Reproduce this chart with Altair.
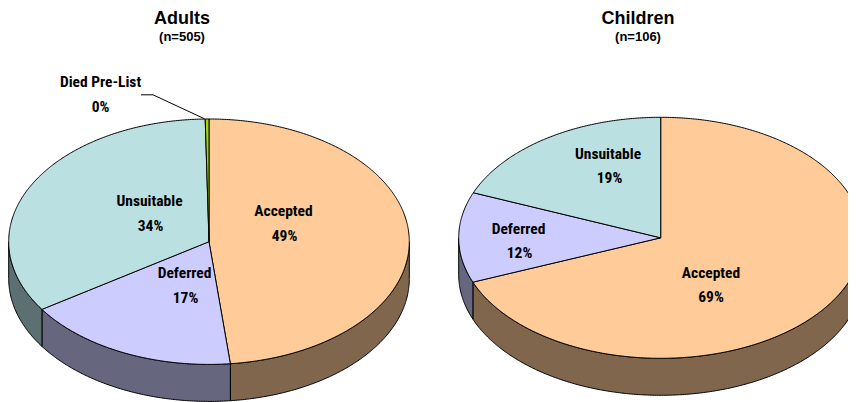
import math
import altair as alt
import pandas as pd

# ---- values ----
pies = ["Adults", "Children"]
categories = ["Accepted", "Deferred", "Unsuitable", "Died Pre-List"]
adult_shares = [48.3, 17.4, 34.0, 0.3]
child_shares = [69.0, 12.1, 18.9, 0.0]
adult_labels = ["49%", "17%", "34%", "0%"]
child_labels = ["69%", "12%", "19%", ""]
top_colors = ["#FFCC99", "#CCCCFF", "#BAE0E2", "#A6D600"]
wall_colors = ["#80664D", "#66667F", "#5D7071", "#4D6600"]
titles = ["Adults", "Children"]
subtitles = ["(n=505)", "(n=106)"]

# ---- layout (pixels of the 856x402 window) ----
L, T, R, B = 8, 8, 848, 402
geom = {"Adults": (209.0, 241.7, 200.3, 122.7), "Children": (660.7, 237.8, 202.0, 120.5)}
DEPTH = 37.0


def pt(pie, t, drop=0.0):
    cx, cy, rx, ry = geom[pie]
    a = math.radians(t)
    return cx + rx * math.sin(a), cy - ry * math.cos(a) + drop


rows = []


def add_poly(pid, fill, pts):
    for i, (x, y) in enumerate(pts):
        rows.append({"pid": pid, "fill": fill, "i": i, "x": x, "y": y})


def arc(t0, t1):
    n = max(2, int(abs(t1 - t0)) * 2)
    return [t0 + (t1 - t0) * k / n for k in range(n + 1)]


pid = 0
for pie, shares in zip(pies, [adult_shares, child_shares]):
    # side walls first, then the top face
    start = 0.0
    for share, wall in zip(shares, wall_colors):
        end = start + share * 3.6
        a, b = max(start, 90.0), min(end, 270.0)
        if b > a:
            ts = arc(a, b)
            add_poly(pid, wall, [pt(pie, t) for t in ts] + [pt(pie, t, DEPTH) for t in reversed(ts)])
            pid += 1
        start = end
    start = 0.0
    cx, cy, _, _ = geom[pie]
    for share, top in zip(shares, top_colors):
        end = start + share * 3.6
        if share > 0:
            add_poly(pid, top, [(cx, cy)] + [pt(pie, t) for t in arc(start, end)])
            pid += 1
        start = end

polys = pd.DataFrame(rows)

x_scale = alt.Scale(domain=[L, R], range=[0, R - L], nice=False, zero=False)
y_scale = alt.Scale(domain=[T, B], range=[0, B - T], nice=False, zero=False)
X = lambda f="x": alt.X(f"{f}:Q", scale=x_scale, axis=None)
Y = lambda f="y": alt.Y(f"{f}:Q", scale=y_scale, axis=None)

faces = (
    alt.Chart(polys)
    .mark_line(interpolate="linear-closed", stroke="#000000", strokeWidth=1.0, clip=True, strokeJoin="round")
    .encode(x=X(), y=Y(), detail="pid:N", order="i:Q", fill=alt.Fill("fill:N", scale=None))
)

leader_x = [141, 153, 204.5]
leader_y = [94.8, 94.8, 118.8]
leader = (
    alt.Chart(pd.DataFrame({"x": leader_x, "y": leader_y, "i": [0, 1, 2]}))
    .mark_line(stroke="#000000", strokeWidth=1)
    .encode(x=X(), y=Y(), order="i:Q")
)

label_rows = [
    ("Accepted", 283.5, 211), (adult_labels[0], 284.5, 236),
    ("Deferred", 184.5, 273), (adult_labels[1], 185.5, 298),
    ("Unsuitable", 149.5, 201), (adult_labels[2], 150.5, 226),
    ("Died Pre-List", 100.5, 82), (adult_labels[3], 100.5, 107),
    ("Accepted", 711, 273), (child_labels[0], 711, 297),
    ("Deferred", 518.5, 229), (child_labels[1], 519.5, 253),
    ("Unsuitable", 608, 154), (child_labels[2], 609.5, 178),
]
labels = (
    alt.Chart(pd.DataFrame(label_rows, columns=["t", "x", "y"]))
    .mark_text(font="Roboto Condensed", fontWeight="bold", fontSize=15.5, color="#000000", baseline="middle", align="center")
    .encode(x=X(), y=Y(), text="t:N")
)

title_df = pd.DataFrame({"t": titles, "x": [182, 638], "y": [19, 19]})
sub_df = pd.DataFrame({"t": subtitles, "x": [182, 638], "y": [36.5, 36.5]})
title_marks = (
    alt.Chart(title_df)
    .mark_text(font="Liberation Sans", fontWeight="bold", fontSize=18, color="#000000", baseline="middle", align="center")
    .encode(x=X(), y=Y(), text="t:N")
)
sub_marks = (
    alt.Chart(sub_df)
    .mark_text(font="Liberation Sans", fontWeight="bold", fontSize=13, color="#000000", baseline="middle", align="center")
    .encode(x=X(), y=Y(), text="t:N")
)

chart = (
    alt.layer(faces, leader, labels, title_marks, sub_marks)
    .properties(width=R - L, height=B - T, padding=0, autosize=alt.AutoSizeParams(type="none"))
    .configure_view(stroke=None)
)

chart.save("out.html", embed_options={"renderer": "svg", "actions": False})
